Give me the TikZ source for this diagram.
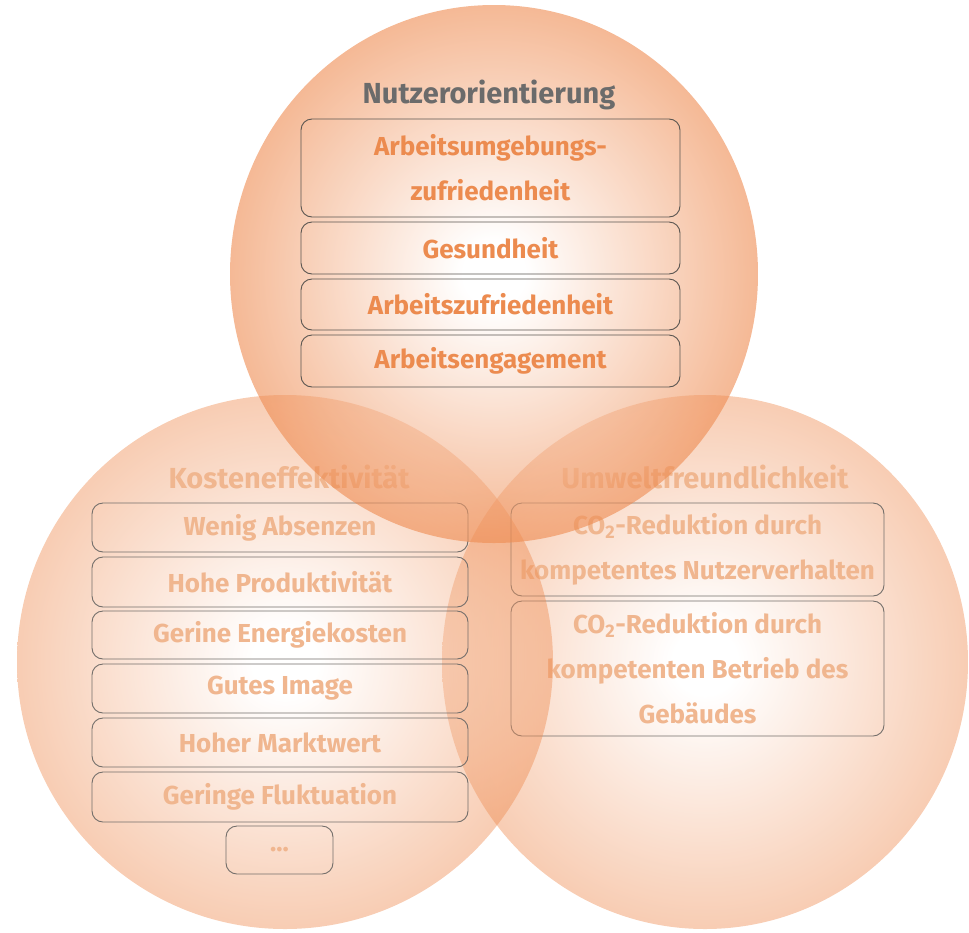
\documentclass[tikz,border=0pt]{standalone}
\usepackage{fontspec}
\setmainfont{Fira Sans}
\definecolor{cIn}{HTML}{FFFFFF}
\definecolor{cOut}{HTML}{EE8A4F}
\definecolor{topTxt}{HTML}{EC8B4F}
\definecolor{lowTxt}{HTML}{F0B68F}
\definecolor{titleGray}{HTML}{6B6B6B}
\definecolor{boxLine}{HTML}{5A5550}
\pgfdeclareradialshading{venn}{\pgfpoint{0bp}{0bp}}{color(0bp)=(cIn); color(3bp)=(cIn); color(25bp)=(cOut); color(50bp)=(cOut)}
\tikzset{
  itembox/.style={draw=boxLine, line width=0.9pt, rounded corners=11pt, inner sep=0pt, align=center,
    font=\fontsize{26}{45}\selectfont\bfseries},
  topitem/.style={itembox, text=topTxt},
  lowitem/.style={itembox, text=lowTxt, draw=boxLine!85},
  ttl/.style={inner sep=0pt, font=\fontsize{29}{34}\selectfont\bfseries},
  vennc/.style={shading=venn}
}
\begin{document}
\begin{tikzpicture}[x=1pt,y=-1pt]
\useasboundingbox (0,0) rectangle (969,932);
% right circle
\shade[vennc, opacity=0.43] (705,662) ellipse [x radius=263, y radius=267];
\node[ttl, text=lowTxt] (ut) at (705,477) {Umweltfreundlichkeit};
\node[lowitem, minimum width=373pt, minimum height=93pt] (r1) at (697.5,549.5) {CO\textsubscript{2}-Reduktion durch\\kompetentes Nutzerverhalten};
\node[lowitem, minimum width=373pt, minimum height=135pt] (r2) at (697.5,668.5) {CO\textsubscript{2}-Reduktion durch\\kompetenten Betrieb des\\Gebäudes};
% left circle
\shade[vennc, opacity=0.43] (285,662) ellipse [x radius=268, y radius=267];
\node[ttl, text=lowTxt] (kt) at (289,477) {Kosteneffektivität};
\node[lowitem, minimum width=376pt, minimum height=49pt] (l1) at (280,527.5) {Wenig Absenzen};
\node[lowitem, minimum width=376pt, minimum height=50pt] (l2) at (280,582) {Hohe Produktivität};
\node[lowitem, minimum width=376pt, minimum height=48pt] (l3) at (280,635) {Gerine Energiekosten};
\node[lowitem, minimum width=376pt, minimum height=49pt] (l4) at (280,688.5) {Gutes Image};
\node[lowitem, minimum width=376pt, minimum height=49pt] (l5) at (280,742.5) {Hoher Marktwert};
\node[lowitem, minimum width=376pt, minimum height=50pt] (l6) at (280,797) {Geringe Fluktuation};
\node[lowitem, minimum width=107pt, minimum height=48pt] (l7) at (279.5,850) {...};
% top circle
\shade[vennc, opacity=0.6] (494,274) ellipse [x radius=264, y radius=269];
\node[ttl, text=titleGray] (nt) at (489,95) {Nutzerorientierung};
\node[topitem, minimum width=379pt, minimum height=98pt] (t1) at (490.5,168) {Arbeitsumgebungs-\\zufriedenheit};
\node[topitem, minimum width=379pt, minimum height=52pt] (t2) at (490.5,248) {Gesundheit};
\node[topitem, minimum width=379pt, minimum height=51pt] (t3) at (490.5,304.5) {Arbeitszufriedenheit};
\node[topitem, minimum width=379pt, minimum height=52pt] (t4) at (490.5,361) {Arbeitsengagement};
\end{tikzpicture}
\end{document}
